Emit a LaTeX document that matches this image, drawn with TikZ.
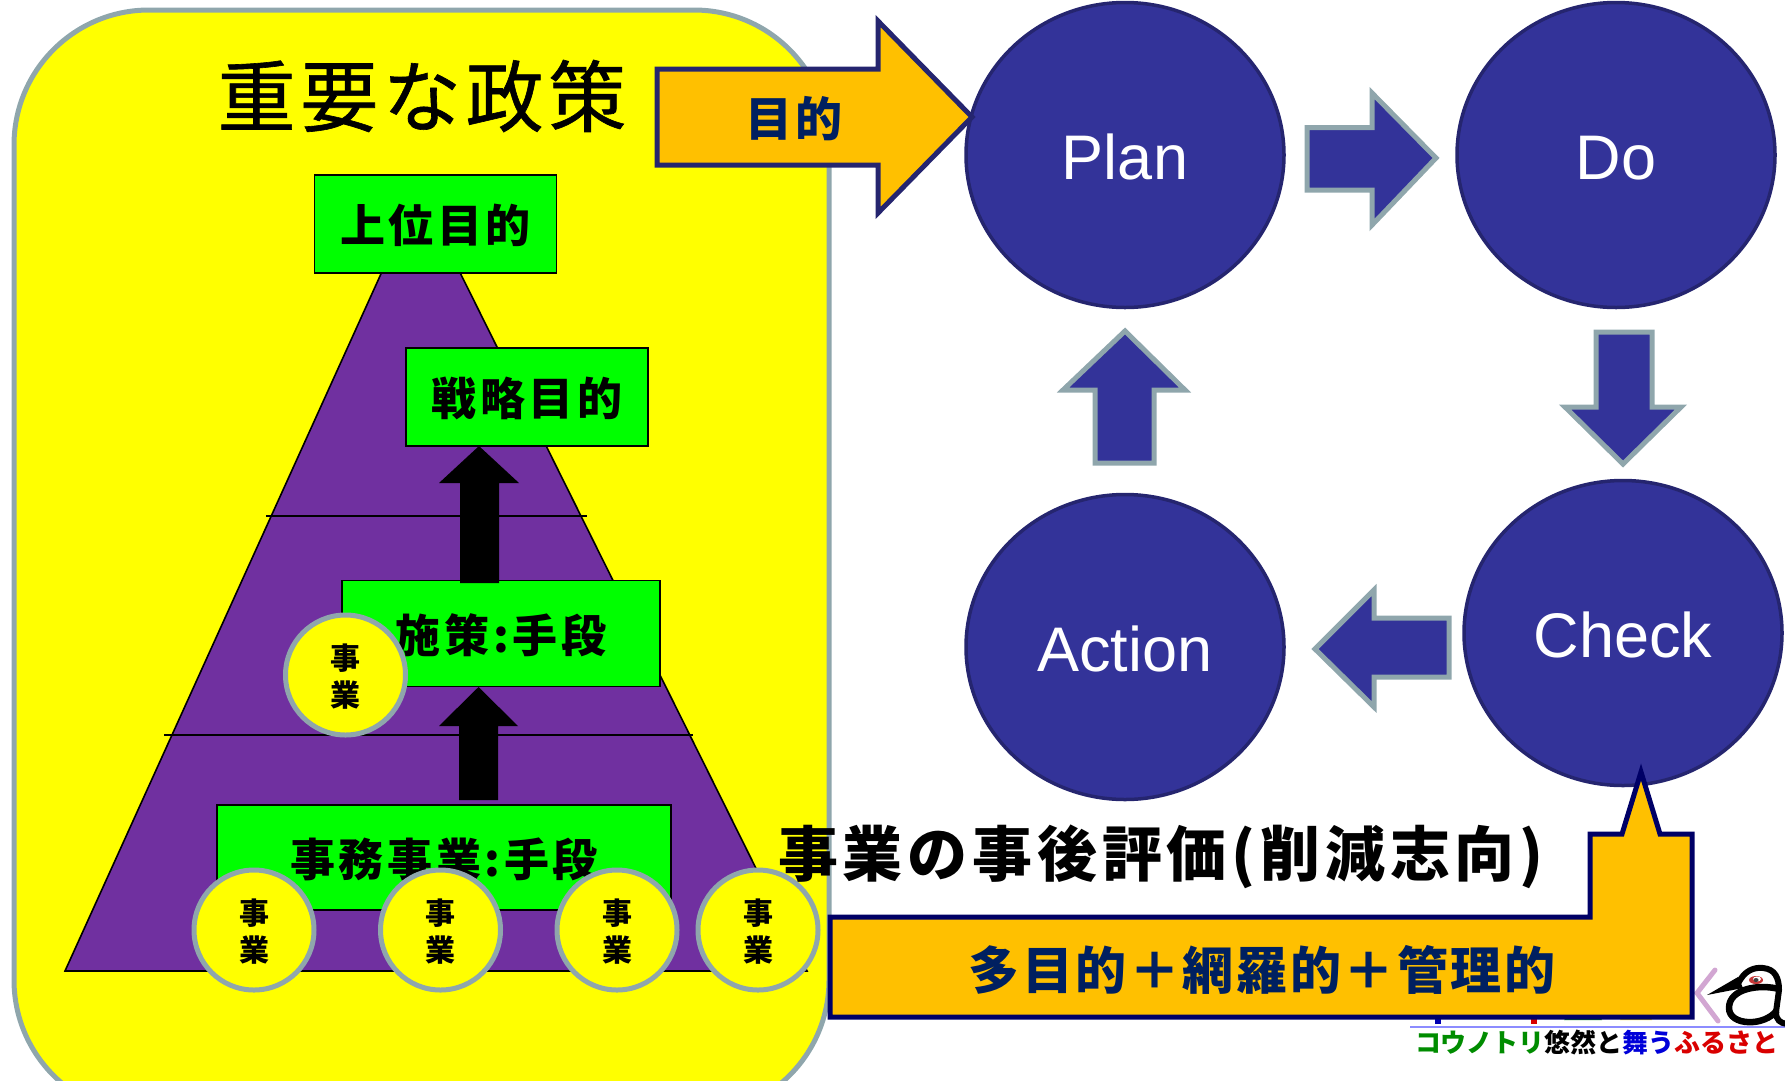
\documentclass[tikz,border=0pt]{standalone}
\usepackage{fontspec}
\usetikzlibrary{shapes.geometric}
\setmainfont{Liberation Sans}
\newfontfamily\cjk{Noto Sans CJK JP}
\newfontfamily\cjktitle[LetterSpace=6,FakeBold=0.8]{Noto Sans CJK JP}
\newfontfamily\cjkhead[LetterSpace=8]{Noto Sans CJK JP}
\newfontfamily\cjkbar[LetterSpace=5]{Noto Sans CJK JP}
\definecolor{frameg}{HTML}{8FA6AC}
\definecolor{plum}{HTML}{7030A0}
\definecolor{indigoA}{HTML}{333399}
\definecolor{indigoB}{HTML}{25256F}
\definecolor{amber}{HTML}{FFC000}
\definecolor{navytxt}{HTML}{002060}
\definecolor{navyline}{HTML}{000066}
\definecolor{lime}{HTML}{00FF00}
\definecolor{pureyellow}{HTML}{FFFF00}
\tikzset{
  greenbox/.style={draw=black,line width=1.6pt,fill=lime,rectangle,inner sep=0pt,text height=38pt,text depth=1pt,font=\cjkhead\bfseries\fontsize{45}{45}\selectfont},
  jigyo/.style={draw=frameg,line width=5pt,fill=pureyellow,ellipse,inner sep=0pt,align=center,font=\cjk\bfseries\fontsize{30}{37.5}\selectfont},
  pdca/.style={draw=indigoB,line width=3.5pt,fill=indigoA,ellipse,inner sep=0pt,minimum width=318pt,minimum height=305pt,text=white,text height=48pt,text depth=0pt,font=\fontsize{63}{63}\selectfont},
  flow/.style={draw=frameg,line width=5pt,fill=indigoA,miter limit=10},
  uparrow/.style={fill=black},
  orangebar/.style={fill=amber,line width=5pt,miter limit=10},
  divider/.style={draw=black,line width=2pt},
}
\begin{document}
\begin{tikzpicture}[x=1pt,y=-1pt]
\useasboundingbox (0,0) rectangle (1785,1080);
\clip (0,0) rectangle (1785,1080);
% large panel
\draw[draw=frameg,line width=5pt,fill=pureyellow,rounded corners=135pt] (14,10) rectangle (829,1115);
% pyramid
\draw[fill=plum,draw=black,line width=1.6pt] (419,190) -- (65,971) -- (807,971) -- cycle;
\draw[divider] (266,516) -- (587,516);
\draw[divider] (164,735) -- (693,735);
% boxes
\node[greenbox,minimum width=242pt,minimum height=98pt] (top) at (435.5,224) {上位目的};
\node[greenbox,minimum width=242pt,minimum height=98pt] (strat) at (527,397) {戦略目的};
\node[greenbox,minimum width=318pt,minimum height=106pt] (meas) at (501,633.5) {施策:手段};
\node[greenbox,minimum width=454pt,minimum height=105pt] (admin) at (444,857.5) {事務事業:手段};
% black up arrows
\fill[uparrow] (460,583) -- (460,483) -- (439,483) -- (479,446) -- (519,483) -- (499,483) -- (499,583) -- cycle;
\fill[uparrow] (459,800) -- (459,726) -- (439,726) -- (478.5,687) -- (518,726) -- (498,726) -- (498,800) -- cycle;
% project circles
\node[jigyo,minimum width=120pt,minimum height=120pt] (j0) at (345.5,675) {\rule{0pt}{29pt}事\\業};
\node[jigyo,minimum width=120pt,minimum height=120pt] (j1) at (254,930) {\rule{0pt}{29pt}事\\業};
\node[jigyo,minimum width=120pt,minimum height=120pt] (j2) at (440.5,930) {\rule{0pt}{29pt}事\\業};
\node[jigyo,minimum width=120pt,minimum height=120pt] (j3) at (617,930) {\rule{0pt}{29pt}事\\業};
\node[jigyo,minimum width=120pt,minimum height=120pt] (j4) at (758,930) {\rule{0pt}{29pt}事\\業};
% title
\node[font=\cjktitle\fontsize{78}{78}\selectfont,inner sep=0pt] (title) at (422,96) {重要な政策};
% PDCA circles
\node[pdca] (plan) at (1125,155) {Plan};
\node[pdca] (do) at (1616,155) {Do};
\node[pdca] (check) at (1623,633) {Check};
\node[pdca] (action) at (1125,647) {Action};
% flow arrows
\draw[flow] (1307,127.5) -- (1372,127.5) -- (1372,93) -- (1436,158) -- (1372,225) -- (1372,190) -- (1307,190) -- cycle;
\draw[flow] (1596,332) -- (1652,332) -- (1652,407) -- (1681,407) -- (1623,464) -- (1565,407) -- (1596,407) -- cycle;
\draw[flow] (1449,618) -- (1374,618) -- (1374,590) -- (1315,649) -- (1374,707) -- (1374,677) -- (1449,677) -- cycle;
\draw[flow] (1095,463) -- (1154,463) -- (1154,390) -- (1185,390) -- (1125,331) -- (1063,390) -- (1095,390) -- cycle;
% logo
\begin{scope}
\draw[color=blue!45!white,line width=1.5pt] (1410,1027) -- (1785,1027);
\draw[color=violet!35!white,line width=5pt,line cap=round] (1715,970) -- (1697,993) -- (1718,1021);
\fill[blue!70!black] (1435,1017) rectangle (1441,1024);
\fill[red!85!black] (1531,1018) rectangle (1537,1024);
\fill[green!60!black] (1564,1020) -- (1602,1020) arc[start angle=0,end angle=-180,x radius=19,y radius=4] -- cycle;
\fill[yellow!85!orange] (1620,1020) -- (1652,1020) arc[start angle=0,end angle=-180,x radius=16,y radius=4] -- cycle;
% crane letter
\fill[black] (1707,995) -- (1738,977) -- (1743,988) -- cycle;
\draw[black,line width=6pt] (1738,984) .. controls (1744,970) and (1755,967) .. (1763,968) .. controls (1775,969) and (1779,978) .. (1779,990) -- (1776,1012) .. controls (1776,1020) and (1780,1023) .. (1787,1024);
\draw[black,line width=6.5pt] (1779,989) .. controls (1760,984) and (1729,988) .. (1729,1008) .. controls (1729,1026) and (1765,1027) .. (1777,1010);
\fill[red!55!gray] (1756,980) ellipse (7pt and 4pt);
\fill[white] (1757,979) ellipse (4pt and 2.5pt);
\fill[black!75] (1756,980) ellipse (2.5pt and 2pt);
\node[anchor=west,inner sep=0pt,font=\cjk\bfseries\fontsize{26}{26}\selectfont] (slogan) at (1415,1042) {\textcolor{green!55!black}{コウノトリ}\textcolor{black}{悠然と}\textcolor{blue!85!black}{舞う}\textcolor{red!85!black}{ふるさと}};
\end{scope}
% callout
\draw[orangebar,draw=navyline] (830,917) -- (1590,917) -- (1590,834) -- (1622,834) -- (1641,772) -- (1660,834) -- (1692,834) -- (1692,1017) -- (830,1017) -- cycle;
\node[font=\cjkbar\bfseries\fontsize{51}{51}\selectfont,text=navytxt,inner sep=0pt] (mgmt) at (1262,970) {多目的＋網羅的＋管理的};
% eval heading
\node[font=\cjkhead\bfseries\fontsize{60}{60}\selectfont,inner sep=0pt] (eval) at (1161,857) {事業の事後評価(削減志向)};
% purpose arrow
\draw[orangebar,draw=indigoB] (657,69) -- (878,69) -- (878,21) -- (972,117) -- (878,213) -- (878,165) -- (657,165) -- cycle;
\node[font=\cjkbar\bfseries\fontsize{47}{47}\selectfont,text=navytxt,inner sep=0pt] (purp) at (794,119) {目的};
\end{tikzpicture}
\end{document}
